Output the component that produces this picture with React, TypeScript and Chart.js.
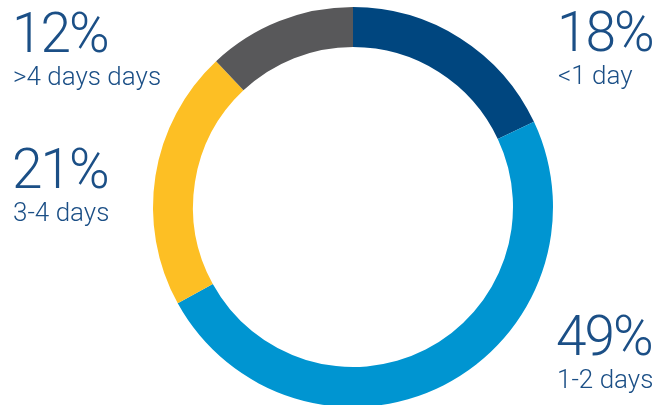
import React, { useEffect, useRef } from "react";
import { Chart, registerables } from "chart.js";

Chart.register(...registerables);

const categories = ["<1 day", "1-2 days", "3-4 days", ">4 days days"];
const values = [18, 49, 21, 12];
const colors = ["#00467F", "#0095D1", "#FDBF24", "#58585A"];
// label anchor positions (left x, baseline of percentage) for each category
const labelX = [557, 556, 12, 12];
const labelY = [51, 355, 188, 52];

const labelPlugin = {
  id: "cornerLabels",
  afterDraw(chart: any) {
    const ctx = chart.ctx;
    ctx.save();
    ctx.fillStyle = "#1B4F86";
    ctx.textBaseline = "alphabetic";
    ctx.textAlign = "left";
    const data = chart.data.datasets[0].data as number[];
    const labels = chart.data.labels as string[];
    for (let i = 0; i < data.length; i++) {
      ctx.font = "300 55px Roboto";
      (ctx as any).letterSpacing = "-2px";
      ctx.fillText(`${data[i]}%`, labelX[i], labelY[i]);
      ctx.font = "300 26px Roboto";
      (ctx as any).letterSpacing = "0px";
      ctx.fillText(labels[i], labelX[i] + 1, labelY[i] + 33);
    }
    ctx.restore();
  },
};

export default function App() {
  const ref = useRef<HTMLCanvasElement | null>(null);
  useEffect(() => {
    if (!ref.current) return;
    const chart = new Chart(ref.current, {
      type: "doughnut",
      data: {
        labels: categories,
        datasets: [
          {
            data: values,
            backgroundColor: colors,
            borderWidth: 0,
          },
        ],
      },
      options: {
        animation: false,
        responsive: false,
        cutout: "80%",
        layout: { padding: { left: 153, right: 108, top: 7, bottom: 7 } },
        plugins: {
          legend: { display: false },
          tooltip: { enabled: false },
        },
      },
      plugins: [labelPlugin],
    });
    return () => chart.destroy();
  }, []);
  return (
    <div
      style={{
        position: "fixed",
        left: 0,
        top: 0,
        width: 661,
        height: 405,
        overflow: "hidden",
        background: "#fff",
      }}
    >
      <canvas ref={ref} width={661} height={414} style={{ display: "block" }} />
    </div>
  );
}
